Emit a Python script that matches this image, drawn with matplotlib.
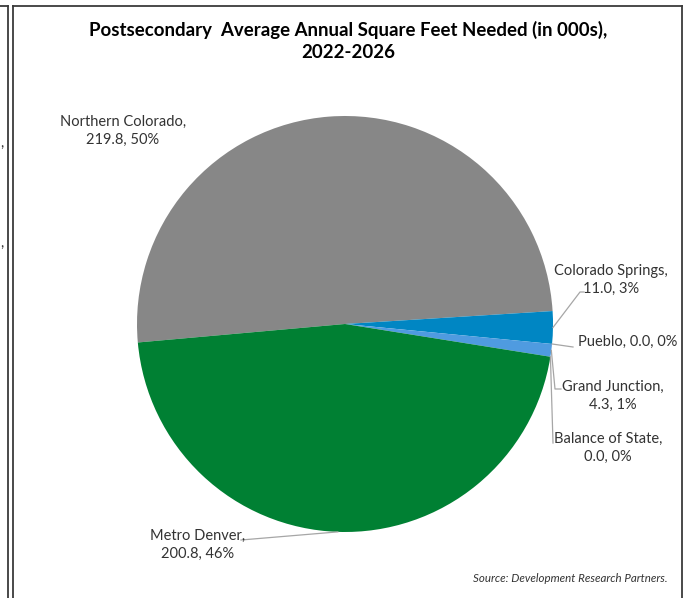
import numpy as np
import matplotlib.pyplot as plt
from matplotlib.lines import Line2D

plt.rcParams['font.family'] = ['Lato', 'DejaVu Sans']

# regions in drawing order (clockwise from the left side)
regions = ['Northern Colorado', 'Colorado Springs', 'Pueblo',
           'Grand Junction', 'Balance of State', 'Metro Denver']
sqft = [219.8, 11.0, 0.0, 4.3, 0.0, 200.8]
pct_labels = ['50%', '3%', '0%', '1%', '0%', '46%']
colors = ['#878787', '#0086c3', '#0086c3', '#4f9be0', '#4f9be0', '#008033']

W, H = 684, 598
fig = plt.figure(figsize=(W / 100, H / 100), dpi=100)

def fp(x, y):
    # image pixel (top-left origin) -> figure fraction
    return x / W, 1 - y / H

# pie axes: centre (345, 324), radius 208 px
cx, cy, r = 345, 324, 208
l, b = fp(cx - r, cy + r)
ax = fig.add_axes([l, b, 2 * r / W, 2 * r / H])
wedges, _ = ax.pie(sqft, colors=colors, startangle=185.1, counterclock=False,
                   radius=1, wedgeprops=dict(linewidth=0))
ax.set_xlim(-1, 1)
ax.set_ylim(-1, 1)
ax.set_aspect('auto')
ax.axis('off')

def edge_pt(w):
    a = np.deg2rad((w.theta1 + w.theta2) / 2)
    return np.cos(a), np.sin(a)

def to_data(x, y):
    # image pixel -> pie data coords
    return (x - cx) / r, (cy - y) / r

lead = '#a6a6a6'
fs = 10.5
txt_color = '#333333'

# label placement: (centre x, centre y, ha) in image pixels
label_pos = {
    'Northern Colorado': (123, 131, 'center'),
    'Colorado Springs': (611, 280, 'center'),
    'Pueblo': (578, 342, 'left'),
    'Grand Junction': (613, 396, 'center'),
    'Balance of State': (608, 448, 'center'),
    'Metro Denver': (198, 545, 'center'),
}
# leader line bends near each label, image pixels
leaders = {
    'Colorado Springs': [(580, 292), (584, 292)],
    'Pueblo': [(573, 347)],
    'Grand Junction': [(555, 389), (561, 389)],
    'Balance of State': [(553, 443)],
    'Metro Denver': [(241, 540)],
}

for w, name, val, pct in zip(wedges, regions, sqft, pct_labels):
    x, y, ha = label_pos[name]
    if name == 'Pueblo':
        txt = f'{name}, {val:.1f}, {pct}'
    else:
        txt = f'{name},\n{val:.1f}, {pct}'
    fx, fy = fp(x, y)
    fig.text(fx, fy, txt, ha=ha, va='center', multialignment='center',
             fontsize=fs, color=txt_color, linespacing=1.3)
    if name in leaders:
        ex, ey = edge_pt(w)
        pts = [(ex, ey)] + [to_data(px, py) for px, py in leaders[name]]
        xs, ys = zip(*pts)
        ax.plot(xs, ys, color=lead, lw=0.9, clip_on=False)

fig.text(*fp(348, 41), 'Postsecondary  Average Annual Square Feet Needed (in 000s),\n2022-2026',
         ha='center', va='center', fontsize=13.4, fontweight='bold',
         color='black', linespacing=1.4)
fig.text(*fp(668, 578), 'Source: Development Research Partners.', ha='right',
         va='center', fontsize=8.3, style='italic', color=txt_color)

# frame lines around the panel and the edge of the neighbouring one
border = '#3a3a3a'
for (x0, y0), (x1, y1) in [((8, 6), (8, 598)), ((0, 6), (8, 6)),
                            ((13, 6), (13, 598)), ((13, 6), (682, 6)),
                            ((682, 6), (682, 598))]:
    a0, b0 = fp(x0, y0)
    a1, b1 = fp(x1, y1)
    fig.add_artist(Line2D([a0, a1], [b0, b1], color=border, lw=1.3))

# trailing commas of text cut off at the left edge
fig.text(*fp(2, 143), ',', fontsize=fs, color=txt_color, ha='center', va='center')
fig.text(*fp(2, 243), ',', fontsize=fs, color=txt_color, ha='center', va='center')

fig.savefig('out.png', dpi=100)
